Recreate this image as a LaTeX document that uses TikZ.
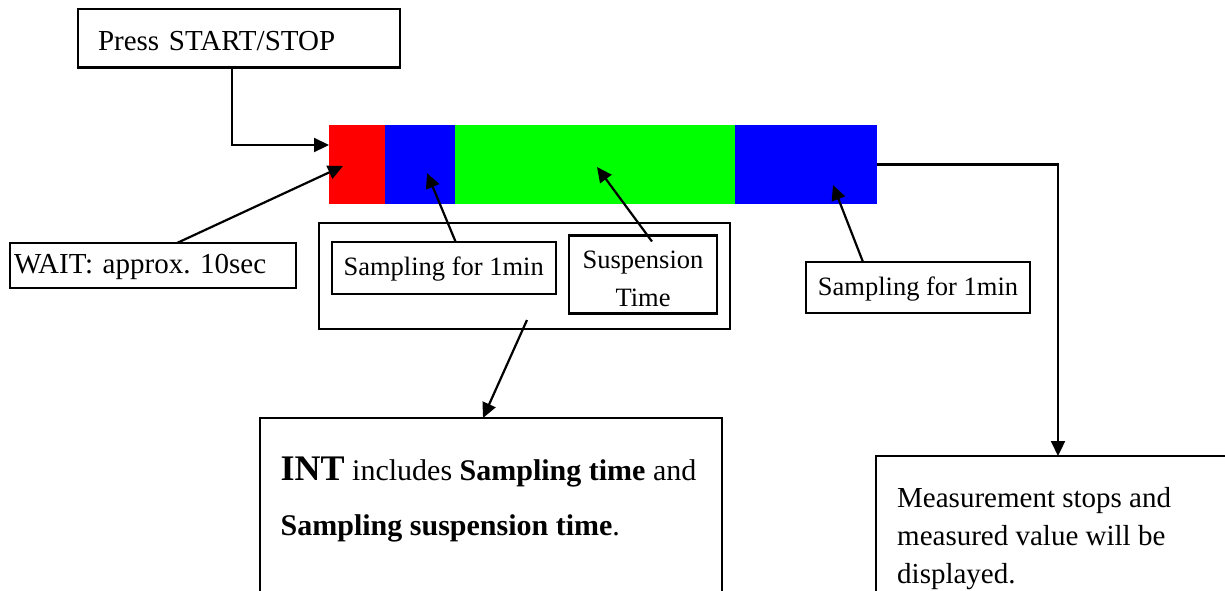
\documentclass[tikz,border=0pt]{standalone}
\usepackage{fontspec}
\setmainfont{Liberation Serif}
\usetikzlibrary{arrows.meta}
\begin{document}
\begin{tikzpicture}[x=1pt,y=-1pt,
  box/.style={draw=black, line width=2.2pt, inner sep=0pt, outer sep=0pt, anchor=north west},
  arr/.style={draw=black, line width=2.2pt, -{Triangle[length=15pt,width=14pt]}},
  seg/.style={draw=none, inner sep=0pt, outer sep=0pt, anchor=north west, minimum height=79pt},
  bigtext/.style={font=\fontsize{29}{38}\selectfont},
  midtext/.style={font=\fontsize{26.5}{38}\selectfont},
]
\useasboundingbox (0,0) rectangle (1225,590);

% colour bar
\node[seg, fill=red,   minimum width=56pt]  (red)   at (329,125) {};
\node[seg, fill=blue,  minimum width=70pt]  (blue1) at (385,125) {};
\node[seg, fill=green, minimum width=280pt] (green) at (455,125) {};
\node[seg, fill=blue,  minimum width=142pt] (blue2) at (735,125) {};

% boxes
\node[box, bigtext, minimum width=322pt, minimum height=58.5pt, inner xsep=20pt,
      text width=282pt, align=left, text height=27pt, text depth=2pt] (press) at (78,9) {Press START/STOP};
\node[box, bigtext, minimum width=286pt, minimum height=45pt, inner xsep=4pt,
      text width=278pt, align=left, text height=21pt, text depth=5pt] (wait) at (10,243) {WAIT: approx.\ 10sec};
\node[box, minimum width=411pt, minimum height=106pt] (group) at (319,223) {};
\node[box, midtext, minimum width=224pt, minimum height=52pt,
      text height=20pt, text depth=6pt] (s1) at (331.7,242) {Sampling for 1min};
\node[box, midtext, minimum width=148pt, minimum height=78pt, align=center,
      text height=65pt, text depth=2pt] (susp) at (569,235.5) {Suspension\\Time};
\node[box, midtext, minimum width=224pt, minimum height=51pt,
      text height=20pt, text depth=4.8pt] (s2) at (806,262) {Sampling for 1min};
\node[box, minimum width=462pt, minimum height=200pt] (int) at (260,418) {};
\node[anchor=base west, inner sep=0pt, align=left, font=\fontsize{30}{55}\selectfont] (inttext) at (280.5,535)
  {{\fontsize{36}{55}\selectfont\bfseries INT} includes \textbf{Sampling time} and\\\textbf{Sampling suspension time}.};
\node[box, minimum width=400pt, minimum height=200pt] (meas) at (876,456) {};
\node[anchor=base west, inner sep=0pt, align=left, bigtext] (meastext) at (897,583)
  {Measurement stops and\\measured value will be\\displayed.};

% arrow coordinates
\coordinate (waittip) at (343,166);
\coordinate (s1tip) at (427,173);
\coordinate (susptip) at (597,167);
\coordinate (s2tip) at (833,185);
\coordinate (groupout) at (527,320);

% connectors
\draw[arr] ([xshift=154pt]press.south west) |- ([yshift=-20pt]red.north west);
\draw[arr] ([xshift=167pt]wait.north west) -- (waittip);
\draw[arr] ([xshift=124pt]s1.north west) -- (s1tip);
\draw[arr] ([xshift=83pt,yshift=-6pt]susp.north west) -- (susptip);
\draw[arr] ([xshift=57pt]s2.north west) -- (s2tip);
\draw[arr] (groupout) -- ([xshift=223pt]int.north west);
\draw[arr] (blue2.east) -| ([xshift=182pt]meas.north west);
\end{tikzpicture}
\end{document}
